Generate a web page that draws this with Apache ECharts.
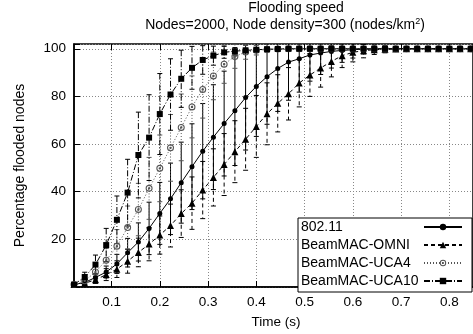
<!DOCTYPE html>
<html>
<head>
<meta charset="utf-8">
<script src="https://cdn.jsdelivr.net/npm/echarts@6/dist/echarts.min.js"></script>
<style>
    html, body { margin: 0; padding: 0; background: #fff; }
    #chart { width: 473px; height: 334px; }
</style>
</head>
<body>
<div id="chart"></div>
<script>
// sample times (s)
const times = [0.0222, 0.0444, 0.0667, 0.0889, 0.1111, 0.1333, 0.1556, 0.1778, 0.2, 0.2222,
    0.2444, 0.2667, 0.2889, 0.3111, 0.3333, 0.3556, 0.3778, 0.4, 0.4222, 0.4444,
    0.4667, 0.4889, 0.5111, 0.5333, 0.5556, 0.5778, 0.6, 0.6222, 0.6444, 0.6667,
    0.6889, 0.7111, 0.7333, 0.7556, 0.7778, 0.8, 0.8222, 0.8444, 0.8667, 0.8889]

const seriesNames = ['802.11', 'BeamMAC-OMNI', 'BeamMAC-UCA4', 'BeamMAC-UCA10']

// mean percentage of flooded nodes
const mean80211 = [1, 1.9, 4, 6.3, 9.7, 14.4, 18.9, 24.6, 30.9, 37,
    43.8, 50.5, 57, 62.9, 68.6, 74, 79.5, 84.2, 88.3, 91.7,
    94.4, 95.8, 97.4, 98.2, 98.9, 99.3, 99.6, 99.8, 99.9, 100,
    100, 100, 100, 100, 100, 100, 100, 100, 100, 100]
const meanOmni = [1, 1.6, 3, 5.2, 7.5, 10.8, 14.5, 18, 21.8, 25.8,
    30.8, 35.2, 40.7, 46, 51.4, 56.8, 62, 67.4, 72.7, 77.1,
    81.1, 85.6, 89, 91.9, 94.7, 97.1, 98.5, 99.2, 99.6, 99.8,
    99.9, 100, 100, 100, 100, 100, 100, 100, 100, 100]
const meanUca4 = [1, 2.6, 6.3, 11.2, 17.1, 25, 32.5, 41.4, 49.8, 58.4,
    67, 75.6, 82.9, 88.6, 93.5, 96.8, 98.6, 99.4, 99.7, 99.9,
    100, 100, 100, 100, 100, 100, 100, 100, 100, 100,
    100, 100, 100, 100, 100, 100, 100, 100, 100, 100]
const meanUca10 = [1, 4.2, 9.4, 17.6, 28.2, 39.6, 55.4, 62.7, 72.6, 80.8,
    87.4, 92, 95.3, 97.1, 98.5, 99, 99.3, 99.6, 99.8, 99.9,
    100, 100, 100, 100, 100, 100, 100, 100, 100, 100,
    100, 100, 100, 100, 100, 100, 100, 100, 100, 100]

// error bar half heights
const err80211 = [0.3, 0.8, 1.5, 2.5, 4, 6, 8, 11, 13, 15,
    17, 18, 20, 22, 22, 23, 22, 21, 20, 18,
    16, 14, 11, 9, 7, 5, 3.5, 2, 1, 0.5,
    0.3, 0.2, 0, 0, 0, 0, 0, 0, 0, 0]
const errOmni = [0.3, 0.8, 1.5, 2.5, 3.5, 5, 6, 7, 8, 9,
    10, 11, 12, 12, 13, 13, 13, 13, 13, 12,
    11, 10, 9, 8, 6.5, 5, 4, 3, 2, 1.5,
    1, 0.6, 0.3, 0, 0, 0, 0, 0, 0, 0]
const errUca4 = [0.3, 1.5, 3, 5, 7, 9, 11, 13, 14, 14,
    14, 13, 12, 10, 8, 5, 3, 2, 1, 0.5,
    0.2, 0, 0, 0, 0, 0, 0, 0, 0, 0,
    0, 0, 0, 0, 0, 0, 0, 0, 0, 0]
const errUca10 = [0.3, 2, 4, 7, 10, 14, 18, 18, 17, 15,
    12, 9, 6, 4, 2.5, 1.5, 1, 0.6, 0.3, 0.2,
    0, 0, 0, 0, 0, 0, 0, 0, 0, 0,
    0, 0, 0, 0, 0, 0, 0, 0, 0, 0]

const xTicks = [0.1, 0.2, 0.3, 0.4, 0.5, 0.6, 0.7, 0.8]

const FONT = 'Liberation Sans, Arial, Helvetica, sans-serif'

const ringDot = 'path://M10,0A10,10 0 1,1 -10,0A10,10 0 1,1 10,0ZM7,0A7,7 0 1,0 -7,0A7,7 0 1,0 7,0ZM3.5,0A3.5,3.5 0 1,1 -3.5,0A3.5,3.5 0 1,1 3.5,0Z'

const styles = [
    {color: '#000', dash: 'solid', symbol: 'circle', size: 5},
    {color: '#000', dash: [4, 3], symbol: 'triangle', size: 7},
    {color: '#555', dash: [1, 2], symbol: ringDot, size: 7},
    {color: '#000', dash: [6, 2, 1, 2], symbol: 'rect', size: 6}
]

const means = [mean80211, meanOmni, meanUca4, meanUca10]
const errs = [err80211, errOmni, errUca4, errUca10]

const makeErrorSeries = (idx) => {
    const st = styles[idx]
    return {
        type: 'custom',
        name: seriesNames[idx] + ' err',
        clip: true,
        silent: true,
        z: 1,
        data: times.map((t, i) => [t, means[idx][i] - errs[idx][i], means[idx][i] + errs[idx][i]]),
        renderItem: (params, api) => {
            const x = api.value(0)
            const top = api.coord([x, api.value(2)])
            const bot = api.coord([x, api.value(1)])
            const w = 2.5
            const lineStyle = {stroke: st.color, lineWidth: 1, lineDash: st.dash === 'solid' ? null : st.dash}
            return {
                type: 'group',
                children: [
                    {type: 'line', shape: {x1: top[0], y1: top[1], x2: bot[0], y2: bot[1]}, style: lineStyle},
                    {type: 'line', shape: {x1: top[0] - w, y1: top[1], x2: top[0] + w, y2: top[1]}, style: {stroke: st.color, lineWidth: 1}},
                    {type: 'line', shape: {x1: bot[0] - w, y1: bot[1], x2: bot[0] + w, y2: bot[1]}, style: {stroke: st.color, lineWidth: 1}}
                ]
            }
        }
    }
}

const makeLineSeries = (idx) => {
    const st = styles[idx]
    return {
        type: 'line',
        name: seriesNames[idx],
        data: times.map((t, i) => [t, means[idx][i]]),
        symbol: st.symbol,
        symbolSize: st.size,
        showSymbol: true,
        z: 3,
        lineStyle: {color: st.color, width: 1, type: st.dash},
        itemStyle: {color: st.color}
    }
}

const chart = echarts.init(document.getElementById('chart'), null, {renderer: 'canvas'})

const option = {
    animation: false,
    backgroundColor: '#fff',
    textStyle: {fontFamily: FONT},
    graphic: [
        {
            type: 'text', x: 296, y: 8,
            style: {text: 'Flooding speed', font: '14px ' + FONT, fill: '#000', align: 'center', verticalAlign: 'middle'}
        },
        {
            type: 'text', x: 285, y: 25,
            style: {
                text: 'Nodes=2000, Node density=300 (nodes/km{sup|2})',
                fontSize: 14, fontFamily: FONT, fill: '#000', align: 'center', verticalAlign: 'middle',
                rich: {sup: {fontSize: 9, fontFamily: FONT, verticalAlign: 'top', padding: [0, 0, 6, 0]}}
            }
        }
    ],
    grid: {
        left: 74, top: 44, right: 0, bottom: 41,
        show: true, borderColor: '#000', borderWidth: 1.5, backgroundColor: 'transparent'
    },
    legend: {
        data: seriesNames,
        orient: 'vertical',
        left: 298, top: 218,
        align: 'right',
        itemWidth: 38, itemHeight: 8, itemGap: 4,
        padding: [2, 9, 4, 3],
        backgroundColor: '#fff',
        borderColor: '#000', borderWidth: 1, borderRadius: 0,
        formatter: name => '{a|' + name + '}',
        textStyle: {
            fontSize: 14, fontFamily: FONT, color: '#000',
            rich: {a: {width: 118, align: 'left', fontSize: 14, fontFamily: FONT, color: '#000'}}
        }
    },
    xAxis: [
        {
            type: 'value', min: 0.0222, max: 0.849,
            name: 'Time (s)', nameLocation: 'middle', nameGap: 28,
            nameTextStyle: {fontSize: 13.5, color: '#000', padding: [0, 0, 0, 5]},
            axisLine: {show: true, lineStyle: {color: '#000', width: 1.5}},
            axisTick: {show: true, inside: true, length: 6, customValues: xTicks, lineStyle: {color: '#000'}},
            axisLabel: {customValues: xTicks, margin: 8, fontSize: 13.5, color: '#000', formatter: v => v.toFixed(1)},
            splitLine: {show: true, customValues: xTicks, lineStyle: {color: '#888', type: [1, 2], width: 1}}
        },
        {
            type: 'value', min: 0.0222, max: 0.849, position: 'top',
            axisLine: {show: false},
            axisTick: {show: true, inside: true, length: 6, customValues: xTicks, lineStyle: {color: '#000'}},
            axisLabel: {show: false},
            splitLine: {show: false}
        }
    ],
    yAxis: {
        type: 'value', min: 0, max: 102, interval: 20,
        name: 'Percentage flooded nodes', nameLocation: 'middle', nameGap: 47,
        nameTextStyle: {fontSize: 14, color: '#000'},
        axisLine: {show: true, lineStyle: {color: '#000', width: 1.5}},
        axisTick: {show: true, inside: true, length: 6, lineStyle: {color: '#000'}},
        axisLabel: {margin: 8, fontSize: 13.5, color: '#000', formatter: v => (v > 0 && v <= 100) ? String(v) : ''},
        splitLine: {show: true, lineStyle: {color: '#888', type: [1, 2], width: 1}}
    },
    series: [
        makeErrorSeries(0), makeErrorSeries(1), makeErrorSeries(2), makeErrorSeries(3),
        makeLineSeries(0), makeLineSeries(1), makeLineSeries(2), makeLineSeries(3)
    ]
}

chart.setOption(option)
</script>
</body>
</html>
